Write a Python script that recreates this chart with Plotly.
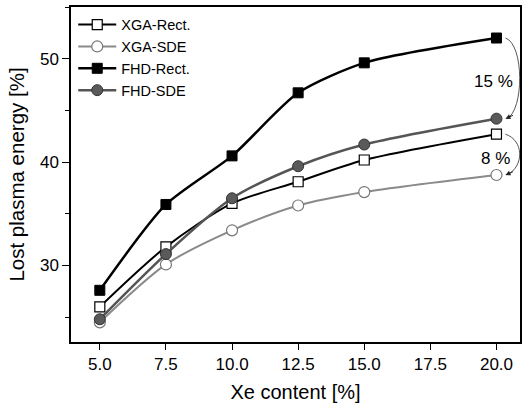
import plotly.graph_objects as go

# ---- data ----
xe_content = [5.0, 7.5, 10.0, 12.5, 15.0, 20.0]
xga_rect = [26.0, 31.8, 36.0, 38.1, 40.2, 42.7]
xga_sde = [24.5, 30.1, 33.4, 35.8, 37.1, 38.75]
fhd_rect = [27.6, 35.9, 40.6, 46.7, 49.6, 52.0]
fhd_sde = [24.8, 31.1, 36.5, 39.6, 41.7, 44.2]

x_tick_vals = [5.0, 7.5, 10.0, 12.5, 15.0, 17.5, 20.0]
x_tick_text = ["5.0", "7.5", "10.0", "12.5", "15.0", "17.5", "20.0"]
y_tick_vals = [30, 40, 50]
y_tick_text = ["30", "40", "50"]

FONT = "Liberation Sans, Arial, sans-serif"

fig = go.Figure()

fig.add_trace(go.Scatter(
    x=xe_content, y=xga_rect, name="XGA-Rect.", mode="lines+markers",
    line=dict(color="black", width=2, shape="spline", smoothing=0.8),
    marker=dict(symbol="square", size=10, color="white", line=dict(color="black", width=1.2)),
))
fig.add_trace(go.Scatter(
    x=xe_content, y=xga_sde, name="XGA-SDE", mode="lines+markers",
    line=dict(color="#8a8a8a", width=2, shape="spline", smoothing=0.8),
    marker=dict(symbol="circle", size=11, color="white", line=dict(color="#777777", width=1.2)),
))
fig.add_trace(go.Scatter(
    x=xe_content, y=fhd_rect, name="FHD-Rect.", mode="lines+markers",
    line=dict(color="black", width=2.5, shape="spline", smoothing=0.7),
    marker=dict(symbol="square", size=10, color="black", line=dict(color="black", width=1)),
))
fig.add_trace(go.Scatter(
    x=xe_content, y=fhd_sde, name="FHD-SDE", mode="lines+markers",
    line=dict(color="#555555", width=2.5, shape="spline", smoothing=0.8),
    marker=dict(symbol="circle", size=11, color="#5a5a5a", line=dict(color="#333333", width=1)),
))

# curved arrows on the right (15 % and 8 %), anchored to the data at x = 20
x_last = xe_content[-1]
xa = x_last + 0.34
xc = x_last + 1.05
pairs = [(fhd_rect[-1], fhd_sde[-1]), (xga_rect[-1], xga_sde[-1])]
shapes = []
annotations = []
for y0, y1 in pairs:
    shapes.append(dict(
        type="path", xref="x", yref="y",
        path=f"M {xa},{y0} C {xc},{y0 - 0.6} {xc},{y1 + 0.8} {xa + 0.05},{y1}",
        line=dict(color="#444444", width=0.9),
    ))
    annotations.append(dict(
        x=xa, y=y1, xref="x", yref="y", text="", showarrow=True,
        ax=9, ay=-4, arrowhead=2, arrowsize=1.0, arrowwidth=1.0, arrowcolor="#222222",
    ))

labels = ["15 %", "8 %"]
label_dx = [-0.1, -0.03]
label_dy = [-0.3, -0.4]
for (y0, y1), lab, dx, dy in zip(pairs, labels, label_dx, label_dy):
    annotations.append(dict(
        x=x_last + dx, y=(y0 + y1) / 2 + dy,
        xref="x", yref="y", text=lab, showarrow=False,
        font=dict(family=FONT, size=17, color="black"),
    ))

fig.update_layout(
    width=524, height=403,
    margin=dict(l=71, r=2, t=7, b=59),
    paper_bgcolor="white", plot_bgcolor="white",
    font=dict(family=FONT, color="black"),
    showlegend=True,
    legend=dict(
        x=0.005, y=0.995, xanchor="left", yanchor="top",
        bgcolor="rgba(0,0,0,0)", borderwidth=0,
        font=dict(family=FONT, size=14.5, color="black"),
        tracegroupgap=0, itemwidth=38,
    ),
    shapes=shapes,
    annotations=annotations,
)

fig.update_xaxes(
    range=[3.91, 20.89],
    tickmode="array", tickvals=x_tick_vals, ticktext=x_tick_text,
    ticks="outside", ticklen=6, tickwidth=1.3, tickcolor="black",
    showline=True, linecolor="black", linewidth=1.5, mirror=True,
    showgrid=False, zeroline=False,
    tickfont=dict(family=FONT, size=17, color="black"),
    title=dict(text="Xe content [%]", font=dict(family=FONT, size=20, color="black"), standoff=13),
)
fig.update_yaxes(
    range=[22.6, 55.0],
    tickmode="array", tickvals=y_tick_vals, ticktext=y_tick_text,
    ticks="outside", ticklen=7, tickwidth=1.3, tickcolor="black",
    minor=dict(tickmode="linear", tick0=25, dtick=10, ticks="outside", ticklen=4, tickcolor="black", tickwidth=1),
    showline=True, linecolor="black", linewidth=1.5, mirror=True,
    showgrid=False, zeroline=False,
    tickfont=dict(family=FONT, size=17, color="black"),
    title=dict(text="Lost plasma energy [%]", font=dict(family=FONT, size=20.5, color="black"), standoff=10),
)

fig.write_html("out.html")
